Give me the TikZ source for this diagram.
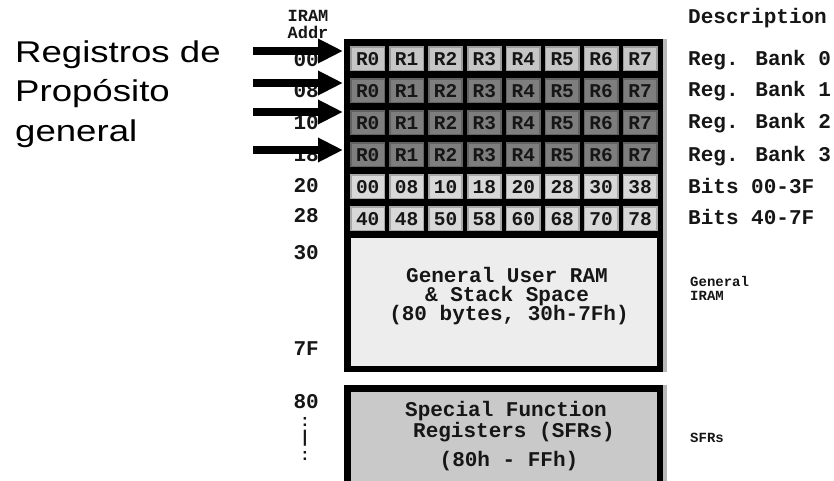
\documentclass[tikz,border=0pt]{standalone}
\usepackage{fontspec}
\setmainfont{Liberation Sans}
\newfontfamily\lblfont[FakeStretch=1.22]{Liberation Sans}
\newfontfamily\bmf{Liberation Mono}
\usetikzlibrary{arrows.meta}
\definecolor{bankA}{HTML}{C6C6C6}
\definecolor{bankAe}{HTML}{9C9C9C}
\definecolor{bankB}{HTML}{7E7E7E}
\definecolor{bankBe}{HTML}{626262}
\definecolor{bitsC}{HTML}{D8D8D8}
\definecolor{bitsCe}{HTML}{A8A8A8}
\definecolor{ramfill}{HTML}{EDEDED}
\definecolor{sfrfill}{HTML}{C9C9C9}
\definecolor{shadowg}{HTML}{B8B8B8}
\definecolor{txtdark}{HTML}{161616}
\begin{document}
\begin{tikzpicture}[x=1pt,y=-1pt,
  cellbase/.style={inner sep=0pt, minimum width=33.4pt, minimum height=23.5pt, line width=1.6pt,
     text=txtdark, font=\bmf\bfseries\fontsize{19.5}{20}\selectfont},
  cellA/.style={cellbase, fill=bankA, draw=bankAe},
  cellB/.style={cellbase, fill=bankB, draw=bankBe},
  cellC/.style={cellbase, fill=bitsC, draw=bitsCe},
  blackbox/.style={fill=black, inner sep=0pt, anchor=north west},
  innerbox/.style={inner sep=0pt, anchor=north west},
  monotxt/.style={inner sep=0pt, text=txtdark, font=\bmf\bfseries\fontsize{21}{22}\selectfont},
  headtxt/.style={inner sep=0pt, text=txtdark, font=\bmf\bfseries\fontsize{17}{17}\selectfont},
  smalltxt/.style={inner sep=0pt, text=txtdark, font=\bmf\bfseries\fontsize{14}{14}\selectfont},
  dottxt/.style={inner sep=0pt, text=txtdark, font=\bmf\bfseries\fontsize{17}{17}\selectfont},
  lbl/.style={inner sep=0pt, anchor=base west, font=\lblfont\fontsize{30}{36}\selectfont},
  bigarrow/.style={line width=8pt, -{Triangle[length=25pt,width=23pt]}}
]
\useasboundingbox (0,0) rectangle (834,481);
\fill[white] (0,0) rectangle (834,481);

% shadows
\fill[shadowg] (663,39) rectangle (667,372);
\fill[shadowg] (663,385) rectangle (667,481);

% upper box
\node[blackbox, minimum width=319pt, minimum height=333pt] (upper) at (344,39) {};
\node[innerbox, fill=ramfill, minimum width=306pt, minimum height=128pt] (ram) at (351,238) {};

% lower box
\node[blackbox, minimum width=319pt, minimum height=96pt] (lower) at (344,385) {};
\node[innerbox, fill=sfrfill, minimum width=306pt, minimum height=89pt] (sfr) at (351,392) {};

% cells
\foreach \i/\a/\b in {0/00/40,1/08/48,2/10/50,3/18/58,4/20/60,5/28/68,6/30/70,7/38/78}{
  \pgfmathsetmacro\cx{351+16.7+38.9*\i}
  \node[cellA] (b0c\i) at (\cx,58.75) {R\i};
  \node[cellB] (b1c\i) at (\cx,90.75) {R\i};
  \node[cellB] (b2c\i) at (\cx,122.75) {R\i};
  \node[cellB] (b3c\i) at (\cx,154.75) {R\i};
  \node[cellC] (bt0c\i) at (\cx,186.75) {\a};
  \node[cellC] (bt1c\i) at (\cx,218.75) {\b};
}

% middle texts
\node[monotxt, anchor=base] (ram1) at (507,282) {General User RAM};
\node[monotxt, anchor=base] (ram2) at (507,301) {\& Stack Space};
\node[monotxt, anchor=base] (ram3) at (509,320) {(80 bytes, 30h-7Fh)};
\node[monotxt, anchor=base] (sfr1) at (506,416) {Special Function};
\node[monotxt, anchor=base] (sfr2) at (514,437) {Registers (SFRs)};
\node[monotxt, anchor=base] (sfr3) at (509,466) {(80h - FFh)};

% header texts
\node[headtxt, anchor=base] (hd1) at (308,22) {IRAM};
\node[headtxt, anchor=base] (hd2) at (308,39) {Addr};
\node[monotxt, anchor=base west] (hd3) at (688,24) {Description};

% addresses
\node[monotxt, anchor=east] (ad00) at (319,60) {00};
\node[monotxt, anchor=east] (ad08) at (319,91) {08};
\node[monotxt, anchor=east] (ad10) at (319,123) {10};
\node[monotxt, anchor=east] (ad18) at (319,155) {18};
\node[monotxt, anchor=east] (ad20) at (319,186) {20};
\node[monotxt, anchor=east] (ad28) at (319,216) {28};
\node[monotxt, anchor=east] (ad30) at (319,253) {30};
\node[monotxt, anchor=east] (ad7F) at (319,349) {7F};
\node[monotxt, anchor=east] (ad80) at (319,402) {80};
\node[dottxt] (dt1) at (305,422) {:};
\node[dottxt] (dt2) at (305,438) {|};
\node[dottxt] (dt3) at (305,456) {:};

% descriptions
\node[monotxt, anchor=base west] (ds0) at (688,66) {Reg. Bank 0};
\node[monotxt, anchor=base west] (ds1) at (688,97) {Reg. Bank 1};
\node[monotxt, anchor=base west] (ds2) at (688,129) {Reg. Bank 2};
\node[monotxt, anchor=base west] (ds3) at (688,161) {Reg. Bank 3};
\node[monotxt, anchor=base west] (ds4) at (688,193) {Bits 00-3F};
\node[monotxt, anchor=base west] (ds5) at (688,224) {Bits 40-7F};
\node[smalltxt, anchor=base west] (ds6) at (690,286) {General};
\node[smalltxt, anchor=base west] (ds7) at (690,300) {IRAM};
\node[smalltxt, anchor=base west] (ds8) at (690,442) {SFRs};

% left label
\node[lbl] (l1) at (15,63) {Registros de};
\node[lbl] (l2) at (15,102) {Propósito};
\node[lbl] (l3) at (15,142) {general};

% arrows
\coordinate (s1) at (253,51);  \coordinate (e1) at (343,51);
\coordinate (s2) at (253,83);  \coordinate (e2) at (343,83);
\coordinate (s3) at (253,112); \coordinate (e3) at (343,112);
\coordinate (s4) at (253,150); \coordinate (e4) at (343,150);
\draw[bigarrow] (s1) -- (e1);
\draw[bigarrow] (s2) -- (e2);
\draw[bigarrow] (s3) -- (e3);
\draw[bigarrow] (s4) -- (e4);
\end{tikzpicture}
\end{document}
